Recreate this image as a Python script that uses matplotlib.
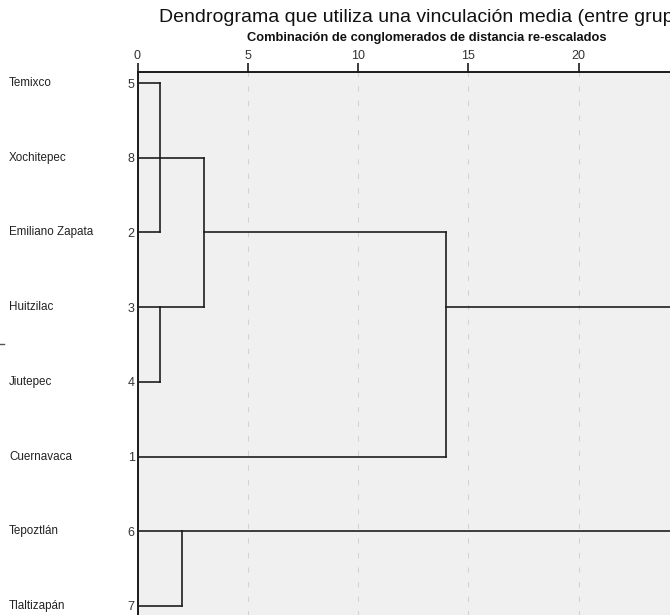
import matplotlib
matplotlib.use("Agg")
import matplotlib.pyplot as plt
from matplotlib.transforms import blended_transform_factory
from matplotlib.lines import Line2D

# ---- data ----
leaf_names = ["Temixco", "Xochitepec", "Emiliano Zapata", "Huitzilac",
              "Jiutepec", "Cuernavaca", "Tepoztlán", "Tlaltizapán"]
leaf_numbers = ["5", "8", "2", "3", "4", "1", "6", "7"]
# merges: node ids 0-7 are leaves (in display order), new nodes get 8, 9, ...
merge_left = [0, 8, 3, 6, 9, 12, 13]
merge_right = [2, 1, 4, 7, 10, 5, 11]
merge_height = [1, 1, 1, 2, 3, 14, 25]
x_ticks = [0, 5, 10, 15, 20]
x_max = 25
title = "Dendrograma que utiliza una vinculación media (entre grupos)"
subtitle = "Combinación de conglomerados de distancia re-escalados"

plt.rcParams['font.family'] = ['Liberation Sans', 'DejaVu Sans']

W, H = 670, 615
fig = plt.figure(figsize=(W / 100, H / 100), dpi=100)

def fx(px):
    return px / W

def fy(py):
    return 1 - py / H

x0_px, unit_px = 137.5, 22.05
top_px, row0_px, row_px = 72.0, 83.0, 74.71
bottom_px = row0_px + 7 * row_px + (row0_px - top_px)
right_px = x0_px + x_max * unit_px

ax = fig.add_axes([fx(x0_px), fy(bottom_px), (right_px - x0_px) / W,
                   (bottom_px - top_px) / H])
ax.set_facecolor("#f0f0f0")
pad = (row0_px - top_px) / row_px
n = len(leaf_names)
ax.set_xlim(0, x_max)
ax.set_ylim(n - 1 + pad, -pad)

# grid
for t in x_ticks[1:]:
    ax.axvline(t, color="#d2d2d2", lw=0.75, ls=(0, (5, 9)), zorder=0)

# dendrogram
pos = {i: (float(i), 0.0) for i in range(n)}
lc = "#1e1e1e"
for k, (a, b, h) in enumerate(zip(merge_left, merge_right, merge_height)):
    ya, ha = pos[a]
    yb, hb = pos[b]
    ax.plot([ha, h], [ya, ya], color=lc, lw=1.2, solid_capstyle="projecting", zorder=3)
    ax.plot([hb, h], [yb, yb], color=lc, lw=1.2, solid_capstyle="projecting", zorder=3)
    ax.plot([h, h], [ya, yb], color=lc, lw=1.2, solid_capstyle="projecting", zorder=3)
    pos[n + k] = (float(int((ya + yb) / 2)), float(h))

# spines / ticks
for s in ["right", "bottom"]:
    ax.spines[s].set_visible(False)
for s in ["top", "left"]:
    ax.spines[s].set_color("#1a1a1a")
    ax.spines[s].set_linewidth(1.4)
ax.xaxis.set_ticks_position("top")
ax.xaxis.set_label_position("top")
ax.set_xticks(x_ticks)
ax.set_xticklabels([str(t) for t in x_ticks])
ax.tick_params(axis="x", direction="out", length=6.5, width=1.2, color="#1a1a1a",
               labelsize=9, labelcolor="#333333", pad=1)
ax.set_yticks(range(n))
ax.set_yticklabels(leaf_numbers)
ax.tick_params(axis="y", length=0, pad=2, labelsize=9, labelcolor="#333333")

tr = blended_transform_factory(fig.transFigure, ax.transData)
for i, name in enumerate(leaf_names):
    ax.text(fx(9), i, name, transform=tr, ha="left", va="center",
            fontsize=8.4, color="#222222", clip_on=False)

fig.text(fx(159), fy(17), title, ha="left", va="center", fontsize=14, color="#111111")
fig.text(fx(427), fy(38), subtitle, ha="center", va="center", fontsize=9.3,
         fontweight="bold", color="#111111")

fig.add_artist(Line2D([fx(0), fx(4)], [fy(344), fy(344)], color="#555555", lw=1,
                      transform=fig.transFigure))

fig.savefig("out.png", dpi=100)
